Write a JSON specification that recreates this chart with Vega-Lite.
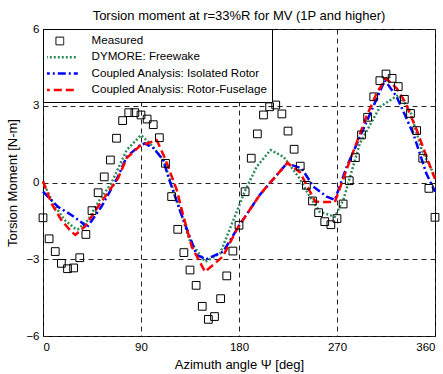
{
  "$schema": "https://vega.github.io/schema/vega-lite/v6.json",
  "width": 392,
  "height": 307,
  "autosize": {"type": "none"},
  "padding": {"left": 43, "top": 29, "right": 8, "bottom": 38},
  "background": "white",
  "title": {"text": "Torsion moment at r=33%R for MV (1P and higher)", "fontSize": 13, "font": "Liberation Sans", "fontWeight": "normal", "anchor": "middle", "offset": 0, "color": "black"},
  "config": {
    "view": {"stroke": "black", "strokeWidth": 1},
    "axis": {"domain": false, "grid": true, "gridDash": [5, 4], "gridColor": "#222", "gridOpacity": 1, "gridWidth": 1, "ticks": false, "labelFont": "Liberation Sans", "labelFontSize": 11.5, "labelColor": "black", "titleFont": "Liberation Sans", "titleFontSize": 13, "titleFontWeight": "normal", "titleColor": "black"}
  },
  "datasets": {
    "measured": [
      {"series": "Measured", "az": 0, "val": -1.38}, {"series": "Measured", "az": 5.625, "val": -2.2}, {"series": "Measured", "az": 11.25, "val": -2.7}, {"series": "Measured", "az": 16.875, "val": -3.16},
      {"series": "Measured", "az": 22.5, "val": -3.37}, {"series": "Measured", "az": 28.125, "val": -3.34}, {"series": "Measured", "az": 33.75, "val": -2.94}, {"series": "Measured", "az": 39.375, "val": -2.03},
      {"series": "Measured", "az": 45, "val": -1.1}, {"series": "Measured", "az": 50.625, "val": -0.4}, {"series": "Measured", "az": 56.25, "val": 0.22}, {"series": "Measured", "az": 61.875, "val": 0.88},
      {"series": "Measured", "az": 67.5, "val": 1.73}, {"series": "Measured", "az": 73.125, "val": 2.42}, {"series": "Measured", "az": 78.75, "val": 2.73}, {"series": "Measured", "az": 84.375, "val": 2.73},
      {"series": "Measured", "az": 90, "val": 2.64}, {"series": "Measured", "az": 95.625, "val": 2.48}, {"series": "Measured", "az": 101.25, "val": 2.26}, {"series": "Measured", "az": 106.875, "val": 1.75},
      {"series": "Measured", "az": 112.5, "val": 0.75}, {"series": "Measured", "az": 118.125, "val": -0.55}, {"series": "Measured", "az": 123.75, "val": -1.83}, {"series": "Measured", "az": 129.375, "val": -2.74},
      {"series": "Measured", "az": 135, "val": -3.42}, {"series": "Measured", "az": 140.625, "val": -4.02}, {"series": "Measured", "az": 146.25, "val": -4.84}, {"series": "Measured", "az": 151.875, "val": -5.35},
      {"series": "Measured", "az": 157.5, "val": -5.24}, {"series": "Measured", "az": 163.125, "val": -4.54}, {"series": "Measured", "az": 168.75, "val": -3.65}, {"series": "Measured", "az": 174.375, "val": -2.68},
      {"series": "Measured", "az": 180, "val": -1.67}, {"series": "Measured", "az": 185.625, "val": -0.36}, {"series": "Measured", "az": 191.25, "val": 0.95}, {"series": "Measured", "az": 196.875, "val": 1.9},
      {"series": "Measured", "az": 202.5, "val": 2.64}, {"series": "Measured", "az": 208.125, "val": 2.96}, {"series": "Measured", "az": 213.75, "val": 3.03}, {"series": "Measured", "az": 219.375, "val": 2.68},
      {"series": "Measured", "az": 225, "val": 2.01}, {"series": "Measured", "az": 230.625, "val": 1.3}, {"series": "Measured", "az": 236.25, "val": 0.64}, {"series": "Measured", "az": 241.875, "val": -0.11},
      {"series": "Measured", "az": 247.5, "val": -0.72}, {"series": "Measured", "az": 253.125, "val": -1.18}, {"series": "Measured", "az": 258.75, "val": -1.53}, {"series": "Measured", "az": 264.375, "val": -1.65},
      {"series": "Measured", "az": 270, "val": -1.41}, {"series": "Measured", "az": 275.625, "val": -0.84}, {"series": "Measured", "az": 281.25, "val": 0.07}, {"series": "Measured", "az": 286.875, "val": 0.97},
      {"series": "Measured", "az": 292.5, "val": 1.86}, {"series": "Measured", "az": 298.125, "val": 2.55}, {"series": "Measured", "az": 303.75, "val": 3.35}, {"series": "Measured", "az": 309.375, "val": 3.98},
      {"series": "Measured", "az": 315, "val": 4.24}, {"series": "Measured", "az": 320.625, "val": 4.07}, {"series": "Measured", "az": 326.25, "val": 3.75}, {"series": "Measured", "az": 331.875, "val": 3.25},
      {"series": "Measured", "az": 337.5, "val": 2.7}, {"series": "Measured", "az": 343.125, "val": 2.03}, {"series": "Measured", "az": 348.75, "val": 0.95}, {"series": "Measured", "az": 354.375, "val": -0.23},
      {"series": "Measured", "az": 360, "val": -1.36}
    ],
    "lines": [
      {"series": "DYMORE: Freewake", "az": 0, "val": 0.03}, {"series": "DYMORE: Freewake", "az": 9.2, "val": -0.81}, {"series": "DYMORE: Freewake", "az": 19.9, "val": -1.47}, {"series": "DYMORE: Freewake", "az": 29.1, "val": -1.79},
      {"series": "DYMORE: Freewake", "az": 32, "val": -1.83}, {"series": "DYMORE: Freewake", "az": 41.3, "val": -1.47}, {"series": "DYMORE: Freewake", "az": 52, "val": -0.68}, {"series": "DYMORE: Freewake", "az": 62.7, "val": -0.03},
      {"series": "DYMORE: Freewake", "az": 76.8, "val": 1.27}, {"series": "DYMORE: Freewake", "az": 90, "val": 1.85}, {"series": "DYMORE: Freewake", "az": 98.3, "val": 1.53}, {"series": "DYMORE: Freewake", "az": 110.5, "val": 0.88},
      {"series": "DYMORE: Freewake", "az": 122.8, "val": -0.68}, {"series": "DYMORE: Freewake", "az": 135, "val": -2.3}, {"series": "DYMORE: Freewake", "az": 149, "val": -3.1}, {"series": "DYMORE: Freewake", "az": 162.6, "val": -2.77},
      {"series": "DYMORE: Freewake", "az": 168.7, "val": -2.12}, {"series": "DYMORE: Freewake", "az": 174.8, "val": -1.47}, {"series": "DYMORE: Freewake", "az": 185.5, "val": -0.33}, {"series": "DYMORE: Freewake", "az": 196.3, "val": 0.62},
      {"series": "DYMORE: Freewake", "az": 209, "val": 1.27}, {"series": "DYMORE: Freewake", "az": 221, "val": 1.0}, {"series": "DYMORE: Freewake", "az": 234.5, "val": 0.23}, {"series": "DYMORE: Freewake", "az": 245, "val": -0.55},
      {"series": "DYMORE: Freewake", "az": 254, "val": -1.14}, {"series": "DYMORE: Freewake", "az": 268, "val": -1.34}, {"series": "DYMORE: Freewake", "az": 275.8, "val": -0.68}, {"series": "DYMORE: Freewake", "az": 291, "val": 1.53},
      {"series": "DYMORE: Freewake", "az": 309.5, "val": 2.96}, {"series": "DYMORE: Freewake", "az": 326.3, "val": 3.42}, {"series": "DYMORE: Freewake", "az": 337, "val": 2.83}, {"series": "DYMORE: Freewake", "az": 347.8, "val": 1.27},
      {"series": "DYMORE: Freewake", "az": 358.5, "val": 0.36}, {"series": "DYMORE: Freewake", "az": 360, "val": 0.25},

      {"series": "Coupled Analysis: Isolated Rotor", "az": 0, "val": -0.36}, {"series": "Coupled Analysis: Isolated Rotor", "az": 13.8, "val": -0.95}, {"series": "Coupled Analysis: Isolated Rotor", "az": 26, "val": -1.27}, {"series": "Coupled Analysis: Isolated Rotor", "az": 36.7, "val": -1.6},
      {"series": "Coupled Analysis: Isolated Rotor", "az": 39.8, "val": -1.79}, {"series": "Coupled Analysis: Isolated Rotor", "az": 53.6, "val": -0.95}, {"series": "Coupled Analysis: Isolated Rotor", "az": 68.9, "val": 0.23}, {"series": "Coupled Analysis: Isolated Rotor", "az": 76.8, "val": 1.0},
      {"series": "Coupled Analysis: Isolated Rotor", "az": 89, "val": 1.45}, {"series": "Coupled Analysis: Isolated Rotor", "az": 93.7, "val": 1.53}, {"series": "Coupled Analysis: Isolated Rotor", "az": 101.3, "val": 1.35}, {"series": "Coupled Analysis: Isolated Rotor", "az": 110.5, "val": 0.88},
      {"series": "Coupled Analysis: Isolated Rotor", "az": 115, "val": 0.23}, {"series": "Coupled Analysis: Isolated Rotor", "az": 125.8, "val": -1.1}, {"series": "Coupled Analysis: Isolated Rotor", "az": 141, "val": -2.83}, {"series": "Coupled Analysis: Isolated Rotor", "az": 150, "val": -3.0},
      {"series": "Coupled Analysis: Isolated Rotor", "az": 165.6, "val": -2.7}, {"series": "Coupled Analysis: Isolated Rotor", "az": 179.4, "val": -1.73}, {"series": "Coupled Analysis: Isolated Rotor", "az": 199, "val": -0.49}, {"series": "Coupled Analysis: Isolated Rotor", "az": 224, "val": 0.75},
      {"series": "Coupled Analysis: Isolated Rotor", "az": 237.6, "val": 0.55}, {"series": "Coupled Analysis: Isolated Rotor", "az": 248.3, "val": -0.16}, {"series": "Coupled Analysis: Isolated Rotor", "az": 260.5, "val": -0.55}, {"series": "Coupled Analysis: Isolated Rotor", "az": 268, "val": -0.68},
      {"series": "Coupled Analysis: Isolated Rotor", "az": 279, "val": 0.62}, {"series": "Coupled Analysis: Isolated Rotor", "az": 314, "val": 4.0}, {"series": "Coupled Analysis: Isolated Rotor", "az": 324.8, "val": 3.35}, {"series": "Coupled Analysis: Isolated Rotor", "az": 340, "val": 1.92},
      {"series": "Coupled Analysis: Isolated Rotor", "az": 352, "val": 0.36}, {"series": "Coupled Analysis: Isolated Rotor", "az": 360, "val": -0.36},

      {"series": "Coupled Analysis: Rotor-Fuselage", "az": 0, "val": 0.05}, {"series": "Coupled Analysis: Rotor-Fuselage", "az": 7.7, "val": -0.81}, {"series": "Coupled Analysis: Rotor-Fuselage", "az": 16.8, "val": -1.47}, {"series": "Coupled Analysis: Rotor-Fuselage", "az": 26, "val": -1.92},
      {"series": "Coupled Analysis: Rotor-Fuselage", "az": 29.7, "val": -2.05}, {"series": "Coupled Analysis: Rotor-Fuselage", "az": 38.3, "val": -1.73}, {"series": "Coupled Analysis: Rotor-Fuselage", "az": 50.5, "val": -0.95}, {"series": "Coupled Analysis: Rotor-Fuselage", "az": 61.2, "val": -0.29},
      {"series": "Coupled Analysis: Rotor-Fuselage", "az": 68.9, "val": 0.16}, {"series": "Coupled Analysis: Rotor-Fuselage", "az": 76.8, "val": 0.95}, {"series": "Coupled Analysis: Rotor-Fuselage", "az": 89, "val": 1.43}, {"series": "Coupled Analysis: Rotor-Fuselage", "az": 104.4, "val": 1.66},
      {"series": "Coupled Analysis: Rotor-Fuselage", "az": 112, "val": 0.95}, {"series": "Coupled Analysis: Rotor-Fuselage", "az": 122.8, "val": -0.29}, {"series": "Coupled Analysis: Rotor-Fuselage", "az": 128.9, "val": -1.3}, {"series": "Coupled Analysis: Rotor-Fuselage", "az": 136.6, "val": -2.51},
      {"series": "Coupled Analysis: Rotor-Fuselage", "az": 148.8, "val": -3.49}, {"series": "Coupled Analysis: Rotor-Fuselage", "az": 165, "val": -2.9}, {"series": "Coupled Analysis: Rotor-Fuselage", "az": 179.4, "val": -1.73}, {"series": "Coupled Analysis: Rotor-Fuselage", "az": 199, "val": -0.49},
      {"series": "Coupled Analysis: Rotor-Fuselage", "az": 205.4, "val": -0.16}, {"series": "Coupled Analysis: Rotor-Fuselage", "az": 224.5, "val": 0.77}, {"series": "Coupled Analysis: Rotor-Fuselage", "az": 236, "val": 0.4}, {"series": "Coupled Analysis: Rotor-Fuselage", "az": 250, "val": -0.75},
      {"series": "Coupled Analysis: Rotor-Fuselage", "az": 268, "val": -0.77}, {"series": "Coupled Analysis: Rotor-Fuselage", "az": 282, "val": 0.88}, {"series": "Coupled Analysis: Rotor-Fuselage", "az": 297, "val": 2.57}, {"series": "Coupled Analysis: Rotor-Fuselage", "az": 306.4, "val": 3.49},
      {"series": "Coupled Analysis: Rotor-Fuselage", "az": 315, "val": 4.07}, {"series": "Coupled Analysis: Rotor-Fuselage", "az": 324.8, "val": 3.68}, {"series": "Coupled Analysis: Rotor-Fuselage", "az": 332.4, "val": 3.16}, {"series": "Coupled Analysis: Rotor-Fuselage", "az": 343.2, "val": 2.05},
      {"series": "Coupled Analysis: Rotor-Fuselage", "az": 358.5, "val": 0.29}, {"series": "Coupled Analysis: Rotor-Fuselage", "az": 360, "val": 0.15}
    ]
  },
  "encoding": {
    "x": {"field": "az", "type": "quantitative", "scale": {"domain": [0, 360], "nice": false}, "axis": {"title": "Azimuth angle Ψ [deg]", "values": [0, 90, 180, 270, 360], "labelPadding": 5, "titlePadding": 6}},
    "y": {"field": "val", "type": "quantitative", "scale": {"domain": [-6, 6], "nice": false}, "axis": {"title": "Torsion Moment [N-m]", "values": [-6, -3, 0, 3, 6], "labelPadding": 4, "titlePadding": 6}}
  },
  "layer": [
    {
      "data": {"name": "lines"},
      "mark": {"type": "line", "strokeWidth": 2.5, "strokeCap": "butt"},
      "encoding": {
        "color": {"field": "series", "type": "nominal",
          "scale": {"domain": ["Measured", "DYMORE: Freewake", "Coupled Analysis: Isolated Rotor", "Coupled Analysis: Rotor-Fuselage"], "range": ["black", "#2E8B57", "#0000FF", "#FF0000"]},
          "legend": {"title": null, "orient": "top-left", "offset": 0, "fillColor": "white", "strokeColor": "black", "padding": 4, "symbolOffset": 7, "clipHeight": 16, "rowPadding": 0.3, "symbolSize": 1296, "symbolStrokeWidth": 2.5, "labelFont": "Liberation Sans", "labelFontSize": 11.6, "labelColor": "black", "labelOffset": 26, "labelLimit": 300,
            "encode": {"symbols": {"update": {"strokeWidth": {"signal": "datum.value === 'Measured' ? 1 : 2.5"}, "size": {"signal": "datum.value === 'Measured' ? 60 : 1296"}, "fill": {"value": "transparent"}}}}}},
        "strokeDash": {"field": "series", "type": "nominal",
          "scale": {"domain": ["Measured", "DYMORE: Freewake", "Coupled Analysis: Isolated Rotor", "Coupled Analysis: Rotor-Fuselage"], "range": [[1, 0], [2, 2], [8, 3, 2, 3], [8, 4]]},
          "legend": {"title": null}}
      }
    },
    {
      "data": {"name": "measured"},
      "mark": {"type": "point", "filled": false, "size": 60, "strokeWidth": 1, "opacity": 1},
      "encoding": {
        "color": {"field": "series", "type": "nominal"},
        "shape": {"field": "series", "type": "nominal",
          "scale": {"domain": ["Measured", "DYMORE: Freewake", "Coupled Analysis: Isolated Rotor", "Coupled Analysis: Rotor-Fuselage"], "range": ["square", "stroke", "stroke", "stroke"]},
          "legend": {"title": null}}
      }
    }
  ]
}
